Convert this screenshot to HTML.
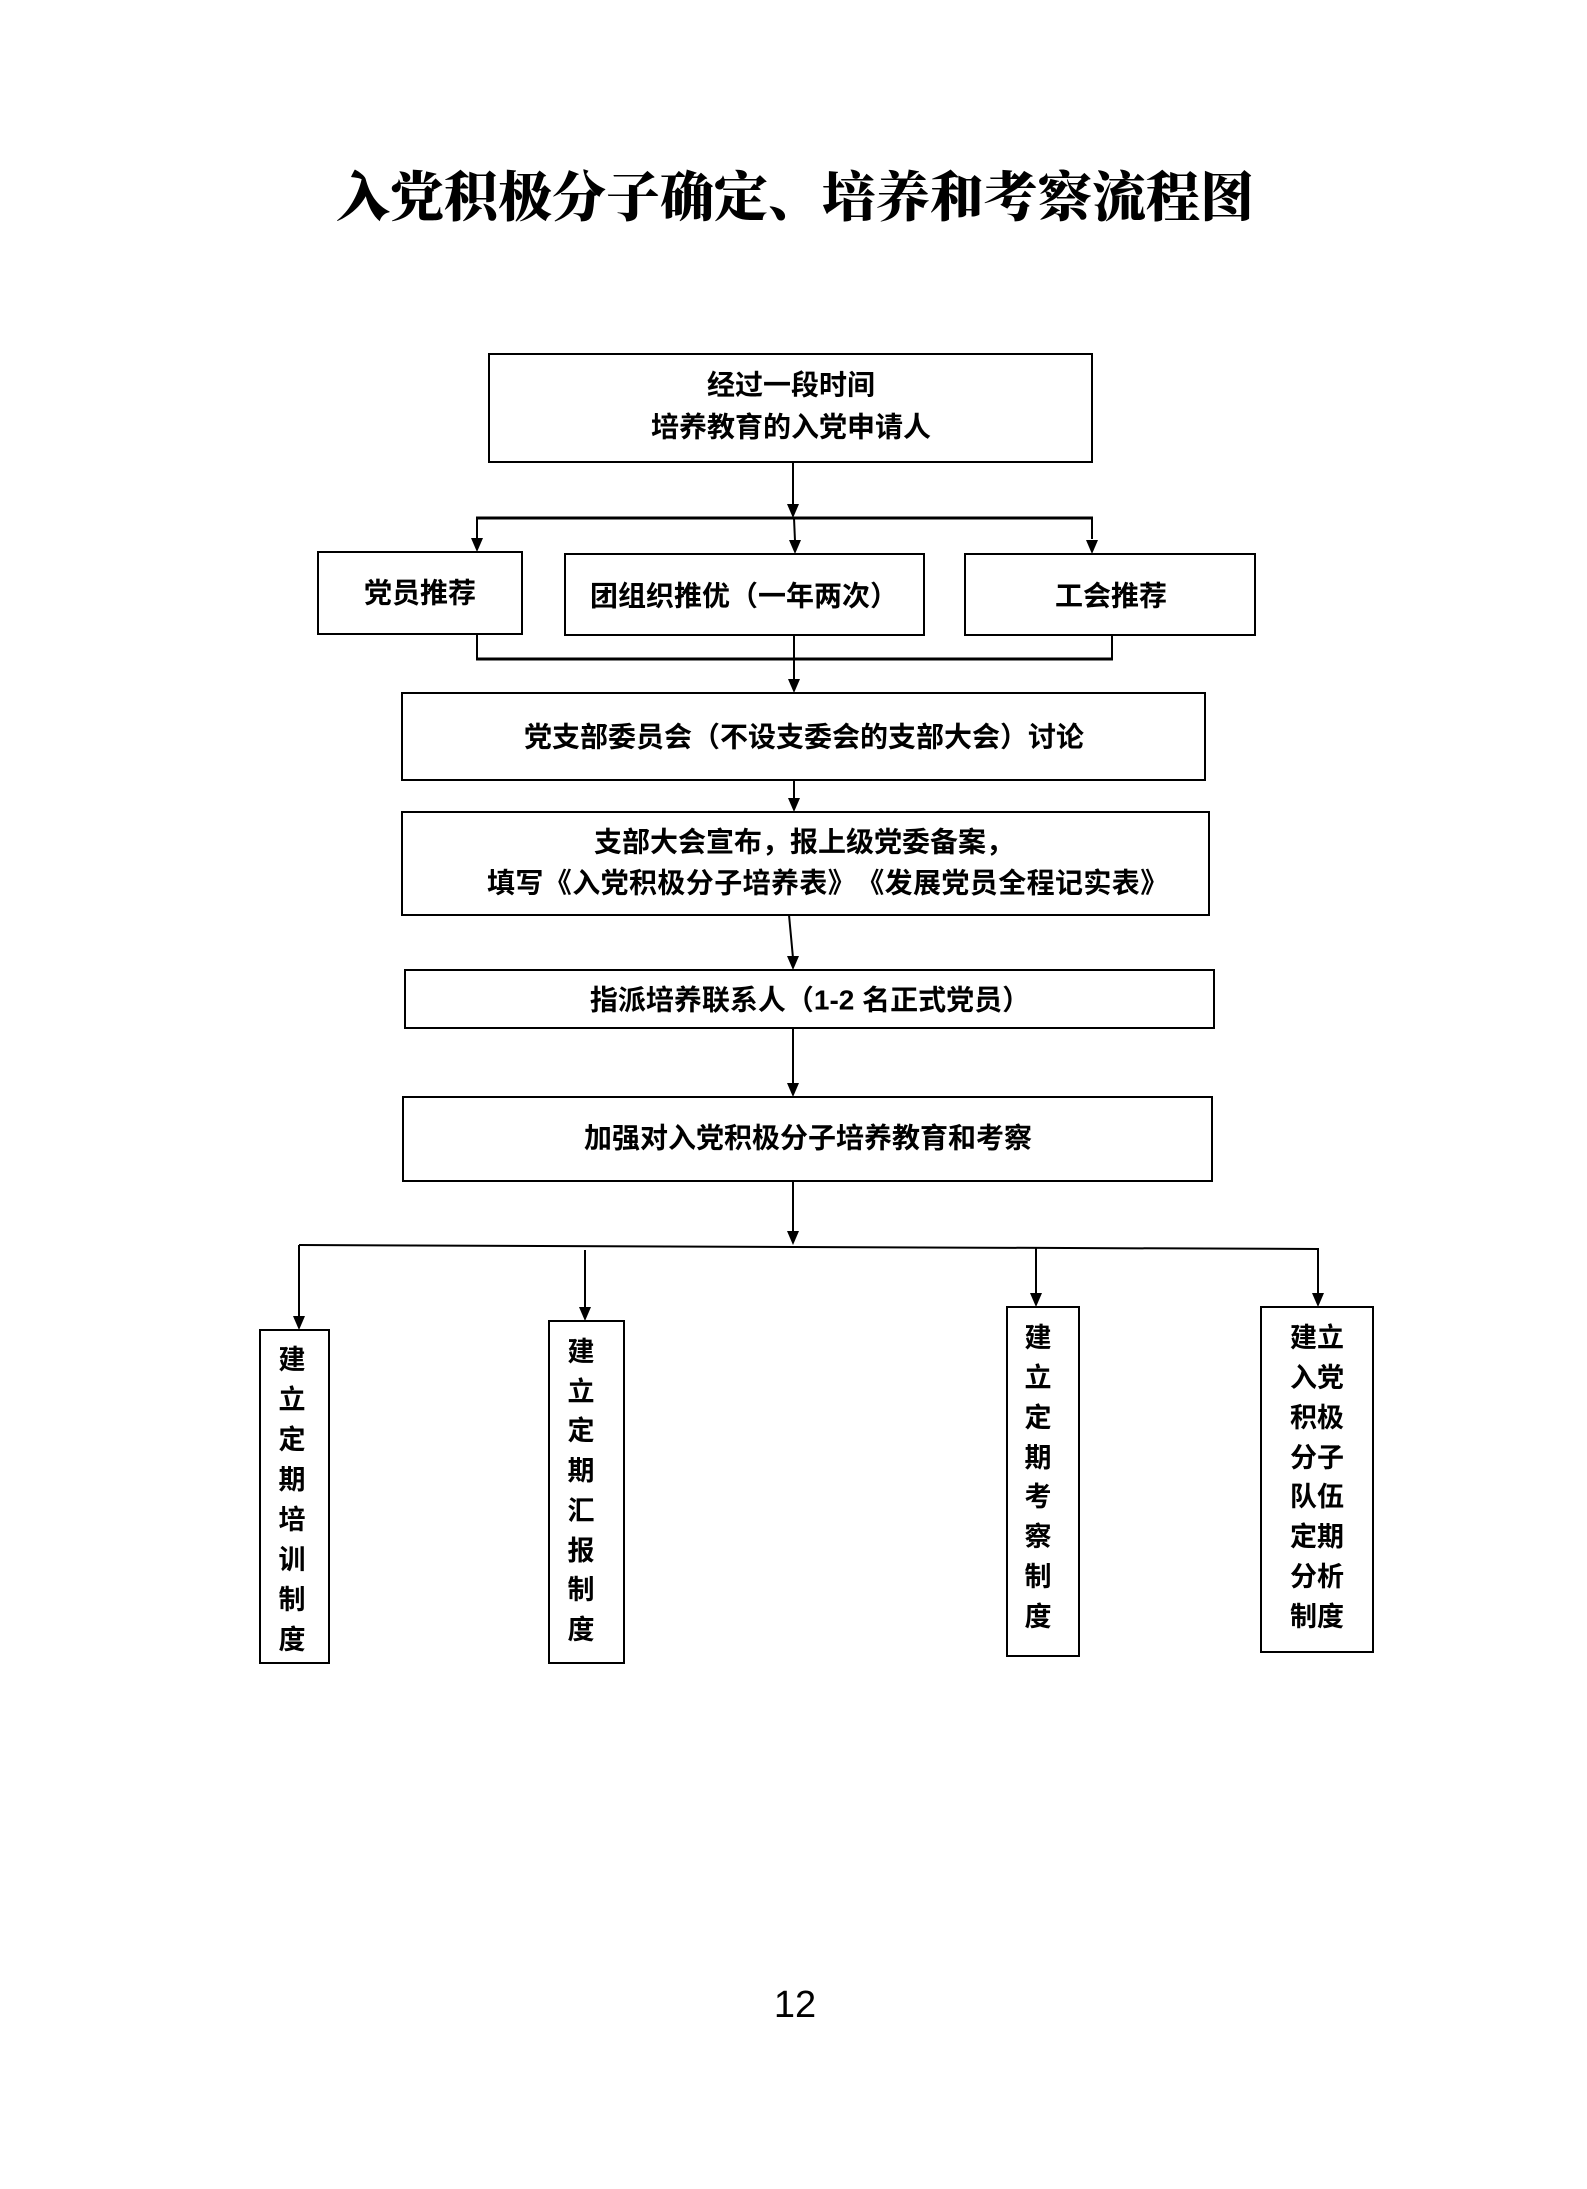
<!DOCTYPE html>
<html lang="zh-CN">
<head>
<meta charset="utf-8">
<style>
  html, body { margin:0; padding:0; background:#fff; }
  body { width:1587px; height:2189px; overflow:hidden; }
  svg { display:block; text-spacing-trim: space-all; }
  text { text-spacing-trim: space-all; }
  .t { font-family:"Liberation Sans","Noto Sans CJK SC",sans-serif; font-weight:700; font-size:28px; fill:#000; }
  .v { font-family:"Liberation Sans","Noto Sans CJK SC",sans-serif; font-weight:700; font-size:27px; fill:#000; }
  .title { font-family:"Liberation Serif","Noto Serif CJK SC",serif; font-weight:900; font-size:54px; fill:#000; }
  .num { font-family:"Liberation Sans",sans-serif; font-size:38px; fill:#000; }
</style>
</head>
<body>
<svg width="1587" height="2189" viewBox="0 0 1587 2189" xmlns="http://www.w3.org/2000/svg">

  <!-- Title -->
  <text class="title" x="795" y="198" text-anchor="middle" dominant-baseline="central">入党积极分子确定、培养和考察流程图</text>

  <g fill="none" stroke="#000" stroke-width="2">
    <!-- Box 1 -->
    <rect x="489" y="354" width="603" height="108"/>
    <!-- Boxes A B C -->
    <rect x="318" y="552" width="204" height="82"/>
    <rect x="565" y="554" width="359" height="81"/>
    <rect x="965" y="554" width="290" height="81"/>
    <!-- Box D -->
    <rect x="402" y="693" width="803" height="87"/>
    <!-- Box E -->
    <rect x="402" y="812" width="807" height="103"/>
    <!-- Box F -->
    <rect x="405" y="970" width="809" height="58"/>
    <!-- Box G -->
    <rect x="403" y="1097" width="809" height="84"/>
    <!-- Bottom vertical boxes -->
    <rect x="260" y="1330" width="69" height="333"/>
    <rect x="549" y="1321" width="75" height="342"/>
    <rect x="1007" y="1307" width="72" height="349"/>
    <rect x="1261" y="1307" width="112" height="345"/>

    <!-- connectors -->
    <line x1="793" y1="462" x2="793" y2="506"/>
    <line x1="476" y1="518" x2="1093" y2="518" stroke-width="3"/>
    <line x1="477" y1="518" x2="477" y2="539"/>
    <line x1="794" y1="518" x2="795" y2="541"/>
    <line x1="1092" y1="518" x2="1092" y2="539"/>

    <line x1="477" y1="634" x2="477" y2="659"/>
    <line x1="1112" y1="635" x2="1112" y2="659"/>
    <line x1="476" y1="659" x2="1113" y2="659" stroke-width="3"/>
    <line x1="794" y1="635" x2="794" y2="681"/>

    <line x1="794" y1="780" x2="794" y2="800"/>
    <line x1="789" y1="915" x2="793" y2="958"/>
    <line x1="793" y1="1028" x2="793" y2="1085"/>
    <line x1="793" y1="1181" x2="793" y2="1232"/>

    <line x1="299" y1="1245" x2="1319" y2="1249"/>
    <line x1="299" y1="1245" x2="299" y2="1317"/>
    <line x1="585" y1="1250" x2="585" y2="1308"/>
    <line x1="1036" y1="1248" x2="1036" y2="1294"/>
    <line x1="1318" y1="1249" x2="1318" y2="1294"/>
  </g>

  <!-- arrowheads -->
  <g fill="#000" stroke="none">
    <polygon points="787,504 799,504 793,518"/>
    <polygon points="471,538 483,538 477,552"/>
    <polygon points="789,540 801,540 795,554"/>
    <polygon points="1086,540 1098,540 1092,554"/>
    <polygon points="788,679 800,679 794,693"/>
    <polygon points="788,798 800,798 794,812"/>
    <polygon points="787,956 799,956 793,970"/>
    <polygon points="787,1083 799,1083 793,1097"/>
    <polygon points="787,1231 799,1231 793,1245"/>
    <polygon points="293,1316 305,1316 299,1330"/>
    <polygon points="579,1307 591,1307 585,1321"/>
    <polygon points="1030,1293 1042,1293 1036,1307"/>
    <polygon points="1312,1293 1324,1293 1318,1307"/>
  </g>

  <!-- box texts -->
  <text class="t" x="791" y="385" text-anchor="middle" dominant-baseline="central">经过一段时间</text>
  <text class="t" x="791" y="427" text-anchor="middle" dominant-baseline="central">培养教育的入党申请人</text>

  <text class="t" x="420" y="593" text-anchor="middle" dominant-baseline="central">党员推荐</text>
  <text class="t" x="744" y="596" text-anchor="middle" dominant-baseline="central">团组织推优（一年两次）</text>
  <text class="t" x="1111" y="596" text-anchor="middle" dominant-baseline="central">工会推荐</text>

  <text class="t" x="804" y="737" text-anchor="middle" dominant-baseline="central">党支部委员会（不设支委会的支部大会）讨论</text>

  <text class="t" x="804" y="842" text-anchor="middle" dominant-baseline="central">支部大会宣布，报上级党委备案，</text>
  <text class="t" y="883" dominant-baseline="central" x="487 515.4 543.8 572.2 600.6 629 657.4 685.8 714.2 742.6 771 799.4 827.8 856.2 884.6 913 941.4 969.8 998.2 1026.6 1055 1083.4 1111.8 1140.2">填写《入党积极分子培养表》《发展党员全程记实表》</text>

  <text class="t" x="810" y="1000" text-anchor="middle" dominant-baseline="central">指派培养联系人（1-2 名正式党员）</text>
  <text class="t" x="808" y="1138" text-anchor="middle" dominant-baseline="central">加强对入党积极分子培养教育和考察</text>

  <!-- vertical boxes -->
  <g class="v" text-anchor="middle" dominant-baseline="central">
    <text x="292" y="1360">建</text>
    <text x="292" y="1400">立</text>
    <text x="292" y="1440">定</text>
    <text x="292" y="1480">期</text>
    <text x="292" y="1520">培</text>
    <text x="292" y="1560">训</text>
    <text x="292" y="1600">制</text>
    <text x="292" y="1640">度</text>

    <text x="581" y="1352">建</text>
    <text x="581" y="1392">立</text>
    <text x="581" y="1431">定</text>
    <text x="581" y="1471">期</text>
    <text x="581" y="1511">汇</text>
    <text x="581" y="1551">报</text>
    <text x="581" y="1590">制</text>
    <text x="581" y="1630">度</text>

    <text x="1038" y="1338">建</text>
    <text x="1038" y="1378">立</text>
    <text x="1038" y="1418">定</text>
    <text x="1038" y="1458">期</text>
    <text x="1038" y="1497">考</text>
    <text x="1038" y="1537">察</text>
    <text x="1038" y="1577">制</text>
    <text x="1038" y="1617">度</text>

    <text x="1317" y="1338">建立</text>
    <text x="1317" y="1378">入党</text>
    <text x="1317" y="1418">积极</text>
    <text x="1317" y="1458">分子</text>
    <text x="1317" y="1497">队伍</text>
    <text x="1317" y="1537">定期</text>
    <text x="1317" y="1577">分析</text>
    <text x="1317" y="1617">制度</text>
  </g>

  <!-- page number -->
  <text class="num" x="795" y="2017" text-anchor="middle">12</text>
</svg>
</body>
</html>
